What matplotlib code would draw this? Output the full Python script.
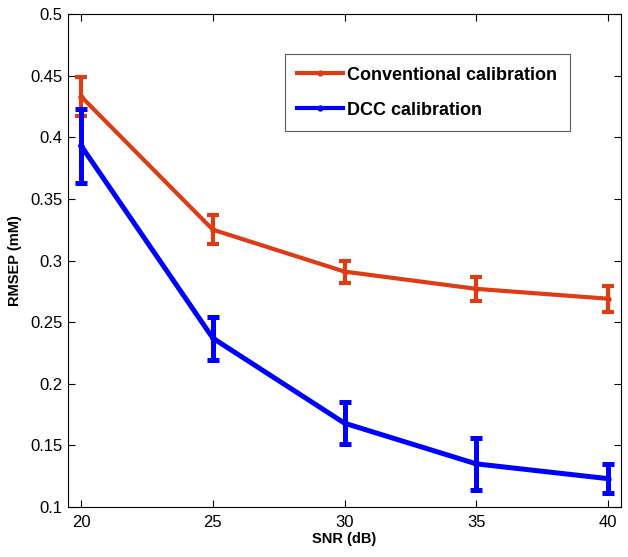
import matplotlib
matplotlib.use('Agg')
import matplotlib.pyplot as plt
from matplotlib.lines import Line2D

plt.rcParams['font.family'] = ['Liberation Sans', 'DejaVu Sans']

snr = [20, 25, 30, 35, 40]
conv = [0.433, 0.325, 0.291, 0.277, 0.269]
conv_err = [0.016, 0.012, 0.009, 0.010, 0.0105]
dcc = [0.393, 0.237, 0.168, 0.135, 0.123]
dcc_err = [0.030, 0.0175, 0.017, 0.021, 0.012]

red = '#DD3C14'
blue = '#0000FF'

fig = plt.figure(figsize=(6.28, 5.57), dpi=100)
ax = fig.add_axes([0.1083, 0.0898, 0.8806, 0.885])

ax.errorbar(snr, conv, yerr=conv_err, color=red, lw=3, marker='.', ms=7,
            elinewidth=3, capsize=4, capthick=3)
ax.errorbar(snr, dcc, yerr=dcc_err, color=blue, lw=3.6, marker='.', ms=7,
            elinewidth=3.6, capsize=4, capthick=3.6)

ax.set_xlim(19.5, 40.5)
ax.set_ylim(0.1, 0.5)
ax.set_xticks(snr)
ax.set_yticks([0.1, 0.15, 0.2, 0.25, 0.3, 0.35, 0.4, 0.45, 0.5])
ax.set_yticklabels(['0.1', '0.15', '0.2', '0.25', '0.3', '0.35', '0.4', '0.45', '0.5'])
ax.tick_params(direction='in', top=True, right=True, labelsize=12, length=5)
ax.tick_params(axis='x', pad=6)
ax.tick_params(axis='y', pad=4)
ax.set_xlabel('SNR (dB)', fontsize=10.5, fontweight='bold', labelpad=1)
ax.set_ylabel('RMSEP (mM)', fontsize=10.5, fontweight='bold', labelpad=6)

handles = [Line2D([], [], color=red, lw=3, marker='.', ms=7),
           Line2D([], [], color=blue, lw=3, marker='.', ms=7)]
leg = ax.legend(handles, ['Conventional calibration', 'DCC calibration'],
                loc='upper left', bbox_to_anchor=(0.392, 0.919),
                prop={'weight': 'bold', 'size': 13}, fancybox=False, edgecolor='#333333',
                handlelength=2.5, borderpad=0.7, labelspacing=1.0, handletextpad=0.25,
                borderaxespad=0)
leg.get_frame().set_linewidth(0.8)

fig.savefig('out.png', dpi=100)
